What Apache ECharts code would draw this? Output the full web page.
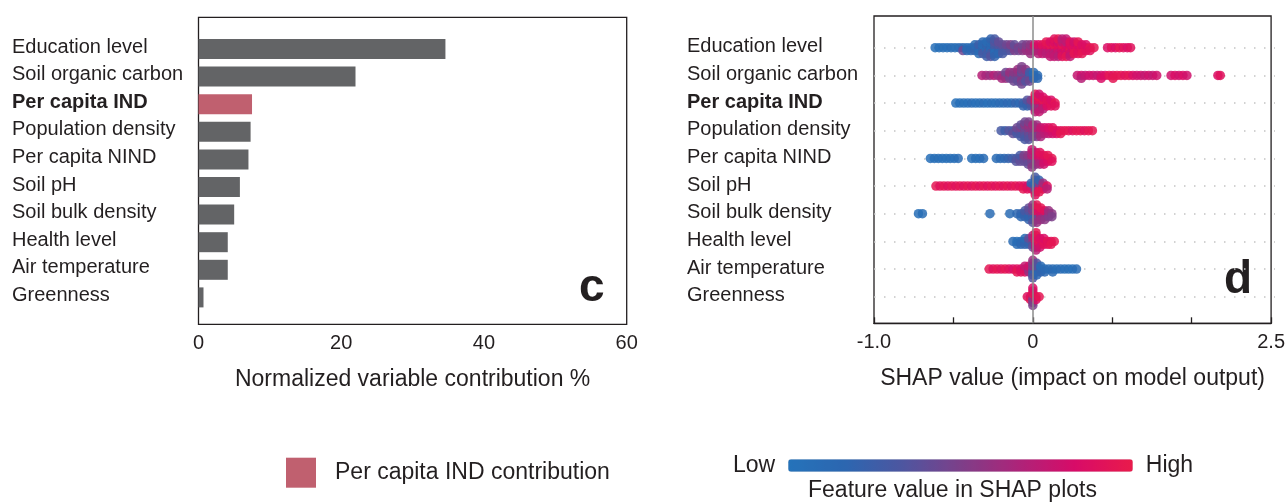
<!DOCTYPE html>
<html>
<head>
<meta charset="utf-8">
<script src="https://cdn.jsdelivr.net/npm/echarts@6/dist/echarts.min.js"></script>
<style>
  html, body { margin: 0; padding: 0; background: #ffffff; }
  #chart { width: 1288px; height: 504px; }
</style>
</head>
<body>
<div id="chart"></div>
<script>
// Variables, listed top to bottom
const categories = ['Education level', 'Soil organic carbon', 'Per capita IND', 'Population density',
  'Per capita NIND', 'Soil pH', 'Soil bulk density', 'Health level', 'Air temperature', 'Greenness'];
const highlighted = 'Per capita IND';

// Panel c: normalized variable contribution (%)
const contribution = [34.6, 22.0, 7.5, 7.3, 7.0, 5.8, 5.0, 4.1, 4.1, 0.7];

// Panel d: SHAP values. Each entry is [shap value, [feature values (0 = low, 1 = high) of the samples at it]]
const shapEducation = [
  [-0.615, [.05]], [-0.59, [.05]], [-0.565, [.08]], [-0.54, [.05]], [-0.515, [.1]], [-0.49, [.08]], [-0.465, [.1]],
  [-0.44, [.15, .45]], [-0.415, [.1, .12]], [-0.39, [.1, .15]], [-0.365, [.1, .2, .12]],
  [-0.34, [.1, .15, .25, .1]], [-0.315, [.12, .2, .1, .3, .15]], [-0.29, [.15, .1, .2, .3, .1, .25]],
  [-0.265, [.2, .1, .15, .3, .12, .35, .2]], [-0.24, [.25, .15, .3, .1, .35, .2, .3]], [-0.215, [.3, .2, .35, .15, .4]],
  [-0.19, [.35, .25, .4, .3]], [-0.165, [.4, .3, .45]], [-0.14, [.45, .35, .5]], [-0.115, [.45, .5, .4]],
  [-0.09, [.5, .45]], [-0.065, [.5, .55, .45]], [-0.04, [.55, .6, .5]], [-0.015, [.6, .65, .55, .6]],
  [0.01, [.75, .6, .8]], [0.035, [.8, .65, .85, .7]], [0.06, [.85, .7, .9, .75]], [0.085, [.85, .75, .9, .7, .95]],
  [0.11, [.9, .8, .95, .7, .85, .75]], [0.135, [.9, .8, .95, .7, .85, .75, .9]], [0.16, [.95, .85, .9, .75, .8, .7, .95]],
  [0.185, [.9, .85, .95, .8, .75, .9, .7]], [0.21, [.95, .9, .85, .8, .7, .95, .75]], [0.235, [.9, .95, .85, .8, .9, .75]],
  [0.26, [.95, .9, .85, .95, .8]], [0.285, [.95, .9, .85, .9, .95]], [0.31, [.95, .9, .85, .95]], [0.335, [.95, .9, .85]],
  [0.36, [.95, .9]], [0.385, [.95]],
  [0.47, [.85]], [0.495, [.9]], [0.52, [.85]], [0.545, [.95]], [0.57, [.9]], [0.595, [.85]], [0.615, [.9]]
];
const shapSoilCarbon = [
  [-0.32, [.7]], [-0.295, [.65]], [-0.27, [.6]], [-0.245, [.7]], [-0.22, [.6]], [-0.195, [.55, .65]],
  [-0.17, [.5, .6, .45]], [-0.145, [.55, .45, .6]], [-0.12, [.5, .4, .55, .45]], [-0.095, [.5, .45, .55, .4, .6]],
  [-0.07, [.45, .5, .4, .55, .5, .45, .5]], [-0.045, [.4, .5, .45, .35, .55]], [-0.02, [.3, .4, .25, .45]],
  [0.005, [.15, .2, .1]], [0.03, [.1, .15]],
  [0.28, [.75]], [0.305, [.8, .7]], [0.33, [.75]], [0.355, [.8]], [0.38, [.8]], [0.405, [.75]], [0.43, [.8, .85]],
  [0.455, [.85]], [0.48, [.95]], [0.505, [.9, .95]], [0.53, [.95]], [0.555, [.95]], [0.58, [.9]], [0.605, [.95]],
  [0.63, [.85]], [0.655, [.8]], [0.68, [.8]], [0.705, [.75]], [0.73, [.8]], [0.755, [.75]], [0.78, [.8]],
  [0.87, [.8]], [0.895, [.85]], [0.92, [.8]], [0.945, [.85]], [0.97, [.8]],
  [1.165, [.85]], [1.18, [.9]]
];
const shapIND = [
  [-0.485, [.05]], [-0.46, [.05]], [-0.435, [.08]], [-0.41, [.05]], [-0.385, [.1]], [-0.36, [.05]], [-0.335, [.08]],
  [-0.31, [.1]], [-0.285, [.05]], [-0.26, [.1]], [-0.235, [.08]], [-0.21, [.12]], [-0.185, [.1]], [-0.16, [.15]],
  [-0.135, [.12]], [-0.11, [.2]], [-0.085, [.15]], [-0.06, [.25, .2]], [-0.035, [.3, .2, .35]],
  [-0.01, [.45, .3, .5]], [0.015, [.8, .6, .9, .5, .85, .7, .95]], [0.04, [.85, .7, .9, .6, .95, .75, .8]],
  [0.065, [.9, .8, .95, .7, .85]], [0.09, [.95, .85, .9]], [0.115, [.95, .9, .85]], [0.14, [.95, .9]]
];
const shapPopulation = [
  [-0.2, [.3]], [-0.175, [.25]], [-0.15, [.35]], [-0.125, [.3, .4]], [-0.1, [.4, .3, .45]],
  [-0.075, [.45, .35, .5, .3, .4]], [-0.05, [.5, .4, .45, .35, .55, .3, .45]], [-0.025, [.5, .45, .55, .4, .6, .35, .5]],
  [0, [.6, .5, .55, .45, .65]], [0.025, [.65, .55, .7, .5, .6]], [0.05, [.7, .6, .75, .65]], [0.075, [.75, .7, .8]],
  [0.1, [.8, .75, .85]], [0.125, [.85, .8, .9]], [0.15, [.9, .85]], [0.175, [.9, .95]], [0.2, [.95]],
  [0.225, [.95]], [0.25, [.9]], [0.275, [.95]], [0.3, [.95]], [0.325, [.9]], [0.35, [.95]], [0.375, [.95]]
];
const shapNIND = [
  [-0.645, [.05]], [-0.62, [.05]], [-0.595, [.08]], [-0.57, [.05]], [-0.545, [.05]], [-0.52, [.08]], [-0.495, [.05]], [-0.47, [.1]],
  [-0.385, [.05]], [-0.36, [.08]], [-0.335, [.05]], [-0.31, [.1]],
  [-0.23, [.1]], [-0.205, [.12]], [-0.18, [.15]], [-0.155, [.2]], [-0.13, [.25]], [-0.105, [.3, .35]],
  [-0.08, [.35, .4, .3]], [-0.055, [.45, .4, .5]], [-0.03, [.5, .45, .55, .4]], [-0.005, [.6, .5, .7, .45, .65, .55, .75]],
  [0.02, [.7, .6, .8, .55, .75]], [0.045, [.8, .7, .85, .65, .9]], [0.07, [.85, .75, .9, .8]], [0.095, [.9, .85, .95]],
  [0.12, [.95, .9]]
];
const shapSoilPH = [
  [-0.61, [.95]], [-0.585, [.9]], [-0.56, [.95]], [-0.535, [.9]], [-0.51, [.95]], [-0.485, [.9]], [-0.46, [.95]],
  [-0.435, [.9]], [-0.41, [.95]], [-0.385, [.9]], [-0.36, [.95]], [-0.335, [.9]], [-0.31, [.95]], [-0.285, [.9]],
  [-0.26, [.95]], [-0.235, [.9]], [-0.21, [.95]], [-0.185, [.9]], [-0.16, [.95]], [-0.135, [.9]], [-0.11, [.95]],
  [-0.085, [.9]], [-0.06, [.9, .95]], [-0.035, [.85, .9]],
  [-0.01, [.3, .9, .2]], [0.015, [.2, .4, .1, .5, .15, .9, .3]], [0.04, [.3, .9, .5, .95, .2]], [0.065, [.85, .95, .6]],
  [0.09, [.9, .7]]
];
const shapBulkDensity = [
  [-0.72, [.05]], [-0.695, [.08]], [-0.27, [.1]], [-0.145, [.1]], [-0.1, [.15]], [-0.075, [.2, .15]],
  [-0.05, [.25, .2, .3]], [-0.025, [.3, .15, .35, .2, .4]], [0, [.4, .3, .5, .2, .45, .35, .55]],
  [0.025, [.8, .5, .9, .45, .85, .6, .95]], [0.05, [.9, .7, .85, .6, .95]], [0.075, [.85, .6, .9, .55]],
  [0.1, [.7, .5, .6]], [0.12, [.55, .5]]
];
const shapHealth = [
  [-0.125, [.1]], [-0.1, [.05, .1]], [-0.075, [.1, .15]], [-0.05, [.15, .2, .1]], [-0.025, [.3, .2, .4]],
  [0, [.5, .3, .6, .4, .7]], [0.02, [.9, .85, .95, .8, .9, .7, .95]], [0.045, [.9, .95, .85, .8]],
  [0.07, [.95, .9, .85]], [0.095, [.95, .9]], [0.115, [.9, .95]], [0.135, [.95]]
];
const shapAirTemp = [
  [-0.275, [.95]], [-0.25, [.9]], [-0.225, [.95]], [-0.2, [.9]], [-0.175, [.95]], [-0.15, [.9]], [-0.125, [.85]],
  [-0.1, [.9, .95]], [-0.075, [.85, .9]], [-0.05, [.8, .9, .75]], [-0.025, [.7, .6, .8]],
  [0, [.45, .3, .55, .25, .5, .35, .6]], [0.025, [.3, .2, .4, .15, .35]], [0.05, [.15, .2, .1]], [0.075, [.1, .15]],
  [0.1, [.1]], [0.125, [.1, .12]], [0.15, [.08]], [0.175, [.1]], [0.2, [.05]], [0.225, [.08]], [0.25, [.05]], [0.275, [.1]]
];
const shapGreenness = [
  [-0.035, [.9]], [-0.015, [.85, .95]], [0, [.8, .5, .95, .55, .9, .5, .85]], [0.02, [.9, .85]], [0.04, [.95]]
];
const shapRows = [shapEducation, shapSoilCarbon, shapIND, shapPopulation, shapNIND,
  shapSoilPH, shapBulkDensity, shapHealth, shapAirTemp, shapGreenness];

const shapTickText = { '-1': '-1.0', '0': '0', '1.5': '2.5' };
const featureColors = ['#2573ba', '#2c66b0', '#4e56a0', '#7d3f89', '#ad2479', '#d80b68', '#e91b4b'];

const ink = '#231f20';
const font = '"Liberation Sans", Arial, Helvetica, sans-serif';

// Beeswarm: samples sharing a SHAP value are stacked around the row, alternating below / above
const swarmStep = 0.105;
function swarmPoints(rows) {
  const out = [];
  rows.forEach(function (cols, r) {
    cols.forEach(function (col) {
      col[1].forEach(function (fv, j) {
        const k = j === 0 ? 0 : (j % 2 ? 1 : -1) * Math.ceil(j / 2);
        out.push([col[0], r + k * swarmStep, fv]);
      });
    });
  });
  return out;
}

const grayBars = contribution.map(function (v, i) { return categories[i] === highlighted ? '-' : v; });
const pinkBars = contribution.map(function (v, i) { return categories[i] === highlighted ? v : '-'; });

function labelFormatter(name) {
  return name === highlighted ? '{b|' + name + '}' : '{n|' + name + '}';
}
function richLabels(lift) {
  return {
    n: { fontSize: 20, color: ink, fontFamily: font, padding: [0, 0, lift, 0] },
    b: { fontSize: 20, color: ink, fontFamily: font, fontWeight: 'bold', padding: [0, 0, lift, 0] }
  };
}

const chart = echarts.init(document.getElementById('chart'), null, { renderer: 'canvas' });
chart.setOption({
  animation: false,
  backgroundColor: '#ffffff',
  textStyle: { fontFamily: font, color: ink },
  grid: [
    { left: 198.5, top: 17.3, width: 428.2, height: 307, show: true, borderColor: ink, borderWidth: 1.3, backgroundColor: 'transparent' },
    { left: 198.5, top: 35.2, width: 428.2, height: 276 },
    { left: 874, top: 16, width: 401, height: 307.3, show: true, borderColor: ink, borderWidth: 1.3, backgroundColor: 'transparent' },
    { left: 874, top: 47.7, width: 401, height: 249 }
  ],
  xAxis: [
    {
      gridIndex: 0, type: 'value', min: 0, max: 60, interval: 20,
      axisLine: { show: false }, axisTick: { show: false }, splitLine: { show: false },
      axisLabel: { fontSize: 20, color: ink, margin: 9 },
      name: 'Normalized variable contribution %', nameLocation: 'middle', nameGap: 44,
      nameTextStyle: { fontSize: 23, color: ink }
    },
    { gridIndex: 1, type: 'value', min: 0, max: 60, show: false },
    {
      gridIndex: 2, type: 'value', min: -1, max: 1.5, interval: 0.5,
      axisLine: { show: true, onZero: false, lineStyle: { color: ink, width: 1.3 } },
      axisTick: { show: true, inside: true, length: 6, lineStyle: { color: ink, width: 1.3 } },
      splitLine: { show: false },
      axisLabel: {
        fontSize: 20, color: ink, margin: 9, showMinLabel: true, showMaxLabel: true,
        formatter: function (v) {
          const key = String(Math.round(v * 10) / 10);
          return shapTickText[key] !== undefined ? shapTickText[key] : '';
        }
      },
      name: 'SHAP value (impact on model output)', nameLocation: 'middle', nameGap: 44,
      nameTextStyle: { fontSize: 23, color: ink }
    },
    { gridIndex: 3, type: 'value', min: -1, max: 1.5, show: false }
  ],
  yAxis: [
    { gridIndex: 0, type: 'value', min: 0, max: 1, show: false },
    {
      gridIndex: 1, type: 'category', data: categories, inverse: true,
      axisLine: { show: false }, axisTick: { show: false }, splitLine: { show: false },
      axisLabel: { align: 'left', margin: 186.5, formatter: labelFormatter, rich: richLabels(4) }
    },
    { gridIndex: 2, type: 'value', min: -1.146, max: 9.96, inverse: true, show: false },
    {
      gridIndex: 3, type: 'category', data: categories, inverse: true, boundaryGap: false,
      axisLine: { show: false }, axisTick: { show: false },
      splitLine: { show: true, lineStyle: { type: [1.5, 8.5], color: '#c4c4c4', width: 1.5 } },
      axisLabel: { align: 'left', margin: 187, formatter: labelFormatter, rich: richLabels(2) }
    }
  ],
  legend: {
    data: ['Per capita IND contribution'],
    left: 286, top: 457.7, padding: 0,
    itemWidth: 30, itemHeight: 30, icon: 'rect',
    textStyle: { fontSize: 23, color: ink, padding: [0, 0, 0, 14] },
    selectedMode: false
  },
  visualMap: {
    type: 'continuous', min: 0, max: 1, dimension: 2, seriesIndex: 3,
    orient: 'horizontal', left: 733, top: 454, padding: 0,
    itemWidth: 12.4, itemHeight: 344.6,
    text: ['High', 'Low'], textGap: 13,
    calculable: false, hoverLink: false,
    inRange: { color: featureColors },
    textStyle: { fontSize: 23, color: ink }
  },
  graphic: [
    { type: 'text', left: 579, top: 265, style: { text: 'c', font: 'bold 46px ' + font, fill: ink } },
    { type: 'text', left: 1224, top: 257, style: { text: 'd', font: 'bold 46px ' + font, fill: ink } },
    { type: 'text', left: 808, top: 479, style: { text: 'Feature value in SHAP plots', font: '23px ' + font, fill: ink } }
  ],
  series: [
    {
      type: 'bar', name: 'Other variables', xAxisIndex: 1, yAxisIndex: 1, stack: 'contribution',
      barWidth: 20, data: grayBars, itemStyle: { color: '#636466' }
    },
    {
      type: 'bar', name: 'Per capita IND contribution', xAxisIndex: 1, yAxisIndex: 1, stack: 'contribution',
      barWidth: 20, data: pinkBars, itemStyle: { color: '#c0606f' }
    },
    {
      type: 'line', xAxisIndex: 2, yAxisIndex: 2, data: [], z: 1,
      markLine: {
        silent: true, symbol: 'none', label: { show: false },
        lineStyle: { color: '#8c8c8c', width: 1.5, type: 'solid' },
        data: [{ xAxis: 0 }]
      }
    },
    {
      type: 'scatter', xAxisIndex: 2, yAxisIndex: 2, z: 3,
      data: swarmPoints(shapRows), symbolSize: 9.5,
      itemStyle: { opacity: 0.85 }
    }
  ]
});
</script>
</body>
</html>
